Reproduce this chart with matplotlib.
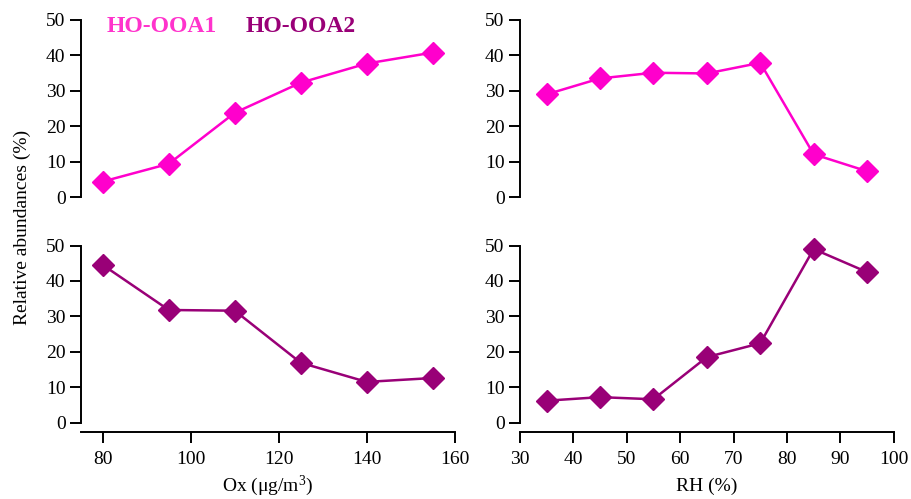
import matplotlib
matplotlib.use("Agg")
import matplotlib.pyplot as plt

# data
ox = [80, 95, 110, 125, 140, 155]
ooa1_ox = [4.4, 9.4, 23.8, 32.3, 37.7, 40.8]
ooa2_ox = [44.5, 31.8, 31.6, 16.9, 11.5, 12.6]

rh = [35, 45, 55, 65, 75, 85, 95]
ooa1_rh = [29.0, 33.5, 35.1, 34.9, 37.9, 12.1, 7.3]
ooa2_rh = [6.2, 7.2, 6.6, 18.5, 22.4, 49.0, 42.5]

yticks = [0, 10, 20, 30, 40, 50]
ox_ticks = [80, 100, 120, 140, 160]
rh_ticks = [30, 40, 50, 60, 70, 80, 90, 100]

C1 = "#ff00cc"
C2 = "#990077"

plt.rcParams["font.family"] = ["Liberation Serif", "DejaVu Serif"]
plt.rcParams["font.size"] = 14

fig = plt.figure(figsize=(9.12, 4.99), dpi=100)

W, H = 0.410, 0.355
ax_tl = fig.add_axes([0.0886, 0.605, W, H])
ax_bl = fig.add_axes([0.0886, 0.153, W, H])
ax_tr = fig.add_axes([0.570, 0.605, W, H])
ax_br = fig.add_axes([0.570, 0.153, W, H])

panels = [
    (ax_tl, ox, ooa1_ox, C1, (75, 160), ox_ticks, False),
    (ax_bl, ox, ooa2_ox, C2, (75, 160), ox_ticks, True),
    (ax_tr, rh, ooa1_rh, C1, (30, 100), rh_ticks, False),
    (ax_br, rh, ooa2_rh, C2, (30, 100), rh_ticks, True),
]

for ax, x, y, c, xlim, xt, show_x in panels:
    ax.plot(x, y, color=c, lw=1.8, marker="D", ms=11, mec=c, mfc=c, clip_on=False)
    ax.set_xlim(*xlim)
    ax.set_ylim(0, 50)
    ax.set_yticks(yticks)
    ax.spines["top"].set_visible(False)
    ax.spines["right"].set_visible(False)
    ax.spines["left"].set_linewidth(1.4)
    ax.tick_params(axis="y", direction="out", length=8, width=1.4, pad=3)
    if show_x:
        ax.set_xticks(xt)
        ax.spines["bottom"].set_position(("outward", 6.5))
        ax.spines["bottom"].set_linewidth(1.4)
        ax.tick_params(axis="x", direction="out", length=8, width=1.4, pad=6)
    else:
        ax.spines["bottom"].set_visible(False)
        ax.set_xticks([])

ax_bl.set_xlabel(r"Ox ($\mathregular{\mu g/m^3}$)", labelpad=4)
ax_br.set_xlabel("RH (%)", labelpad=7)

fig.text(0.024, 0.545, "Relative abundances (%)", rotation=90,
         ha="center", va="center", fontsize=14)

fig.text(0.117, 0.946, "HO-OOA1", color="#ff33cc", fontweight="bold",
         fontsize=17, va="center")
fig.text(0.269, 0.946, "HO-OOA2", color=C2, fontweight="bold",
         fontsize=17, va="center")

fig.savefig("out.png", dpi=100)
